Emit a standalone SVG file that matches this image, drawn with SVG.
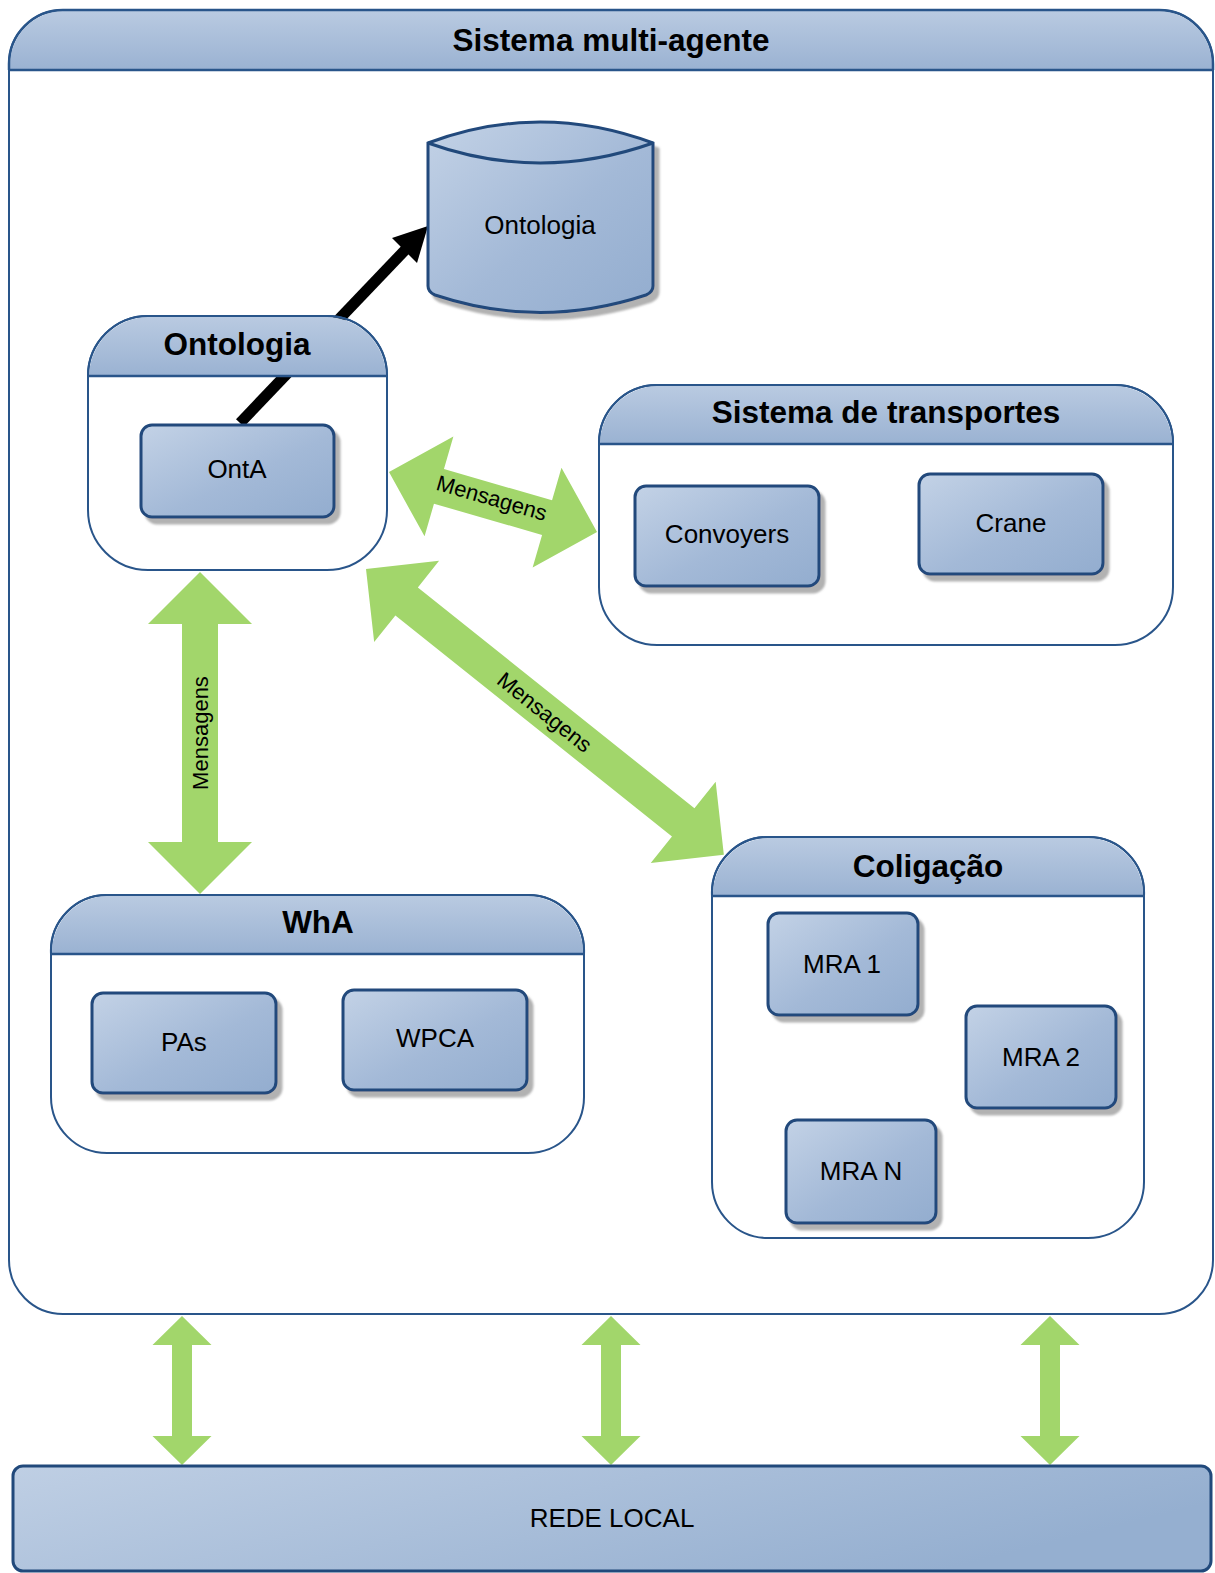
<svg xmlns="http://www.w3.org/2000/svg" xmlns:xlink="http://www.w3.org/1999/xlink" width="1215" height="1573" viewBox="0 0 1215 1573">
  <defs>
    <linearGradient id="hdr" x1="0" y1="0" x2="0" y2="1">
      <stop offset="0" stop-color="#b9cae1"/>
      <stop offset="1" stop-color="#9ab2d2"/>
    </linearGradient>
    <linearGradient id="boxfill" x1="0" y1="0" x2="1" y2="1">
      <stop offset="0" stop-color="#c3d2e6"/>
      <stop offset="0.55" stop-color="#a3b9d7"/>
      <stop offset="1" stop-color="#93adcf"/>
    </linearGradient>
    <linearGradient id="netfill" x1="0" y1="0" x2="1" y2="0.35">
      <stop offset="0" stop-color="#bfcfe4"/>
      <stop offset="1" stop-color="#95afd0"/>
    </linearGradient>
    <filter id="shadow" x="-10%" y="-10%" width="130%" height="130%">
      <feDropShadow dx="5" dy="6" stdDeviation="1.2" flood-color="#7f7f7f" flood-opacity="0.6"/>
    </filter>
    <!-- small vertical double arrow between the system and the network -->
    <polygon id="vlink" points="0,0 29.5,29 10,29 10,120 29.5,120 0,149 -29.5,120 -10,120 -10,29 -29.5,29"/>
  </defs>
  <style>
    .frame { fill: #ffffff; stroke: #29558a; stroke-width: 2; }
    .inner { fill: none; stroke: #29558a; stroke-width: 2; }
    .head { fill: url(#hdr); }
    .sep { stroke: #29558a; stroke-width: 2.5; fill: none; }
    .box { fill: url(#boxfill); stroke: #21497b; stroke-width: 3; filter: url(#shadow); }
    .title { font-family: "Liberation Sans", Arial, sans-serif; font-weight: bold; font-size: 31.5px; fill: #000; text-anchor: middle; }
    .label { font-family: "Liberation Sans", Arial, sans-serif; font-size: 26px; fill: #000; text-anchor: middle; }
    .msg { font-family: "Liberation Sans", Arial, sans-serif; font-size: 22px; fill: #000; text-anchor: middle; }
    .green { fill: #a2d66b; }
  </style>

  <!-- outer system container -->
  <g id="sistema-multi-agente">
    <rect class="frame" x="9" y="10" width="1204" height="1304" rx="54" ry="54"/>
    <path class="head" d="M10,70 L10,64 A54,54 0 0 1 64,11 L1158,11 A54,54 0 0 1 1212,64 L1212,70 Z"/>
    <path d="M9,70 L9,64 A54,54 0 0 1 63,10 L1159,10 A54,54 0 0 1 1213,64 L1213,70" fill="none" stroke="#29558a" stroke-width="2.5"/>
    <line class="sep" x1="9" y1="70" x2="1213" y2="70"/>
    <text class="title" x="611" y="51">Sistema multi-agente</text>
  </g>

  <!-- connectors (drawn beneath the inner containers' headers) -->
  <g id="connectors">
    <!-- OntA -> Ontologia store -->
    <line x1="240" y1="423" x2="407" y2="248" stroke="#000" stroke-width="11"/>
    <polygon points="428,226 392,238 417,263" fill="#000"/>

    <!-- Ontologia <-> Sistema de transportes -->
    <g transform="translate(389,472) rotate(16.09)">
      <polygon class="green" points="0,0 52,-52 52,-18 164.5,-18 164.5,-52 216.5,0 164.5,52 164.5,18 52,18 52,52"/>
      <text class="msg" x="106" y="4">Mensagens</text>
    </g>

    <!-- Ontologia <-> Coligação -->
    <g transform="translate(366,569) rotate(38.62)">
      <polygon class="green" points="0,0 52,-52 52,-18 406,-18 406,-52 458,0 406,52 406,18 52,18 52,52"/>
      <text class="msg" x="229" y="8">Mensagens</text>
    </g>

    <!-- Ontologia <-> WhA -->
    <g transform="translate(200,572) rotate(90)">
      <polygon class="green" points="0,0 52,-52 52,-18 270,-18 270,-52 322,0 270,52 270,18 52,18 52,52"/>
    </g>
    <text class="msg" transform="translate(200,733) rotate(-90)" x="0" y="8">Mensagens</text>

    <!-- system <-> local network -->
    <use xlink:href="#vlink" href="#vlink" class="green" transform="translate(182,1316)"/>
    <use xlink:href="#vlink" href="#vlink" class="green" transform="translate(611,1316)"/>
    <use xlink:href="#vlink" href="#vlink" class="green" transform="translate(1050,1316)"/>
  </g>

  <!-- ontology agent container -->
  <g id="ontologia-agente">
    <rect class="inner" x="88" y="316" width="299" height="254" rx="60" ry="60"/>
    <path class="head" d="M89,376 A60,60 0 0 1 148,317 L327,317 A60,60 0 0 1 386,376 Z"/>
    <path d="M88,376 A60,60 0 0 1 148,316 L327,316 A60,60 0 0 1 387,376" fill="none" stroke="#29558a" stroke-width="2"/>
    <line class="sep" x1="88" y1="376" x2="387" y2="376"/>
    <text class="title" x="237" y="355">Ontologia</text>
  </g>
  <g id="onta">
    <rect class="box" x="141" y="425" width="193" height="92" rx="11" ry="11"/>
    <text class="label" x="237" y="478">OntA</text>
  </g>

  <!-- transport system container -->
  <g id="sistema-transportes">
    <rect class="inner" x="599" y="385" width="574" height="260" rx="58" ry="58"/>
    <path class="head" d="M600,444 A58,58 0 0 1 657,386 L1115,386 A58,58 0 0 1 1172,444 Z"/>
    <path d="M599,444 A58,58 0 0 1 657,385 L1115,385 A58,58 0 0 1 1173,444" fill="none" stroke="#29558a" stroke-width="2"/>
    <line class="sep" x1="599" y1="444" x2="1173" y2="444"/>
    <text class="title" x="886" y="423">Sistema de transportes</text>
  </g>
  <g id="convoyers">
    <rect class="box" x="635" y="486" width="184" height="100" rx="11" ry="11"/>
    <text class="label" x="727" y="543">Convoyers</text>
  </g>
  <g id="crane">
    <rect class="box" x="919" y="474" width="184" height="100" rx="11" ry="11"/>
    <text class="label" x="1011" y="532">Crane</text>
  </g>

  <!-- warehouse agent container -->
  <g id="wha">
    <rect class="inner" x="51" y="895" width="533" height="258" rx="56" ry="56"/>
    <path class="head" d="M52,954 A56,56 0 0 1 107,896 L528,896 A56,56 0 0 1 583,954 Z"/>
    <path d="M51,954 A56,56 0 0 1 107,895 L528,895 A56,56 0 0 1 584,954" fill="none" stroke="#29558a" stroke-width="2"/>
    <line class="sep" x1="51" y1="954" x2="584" y2="954"/>
    <text class="title" x="318" y="933">WhA</text>
  </g>
  <g id="pas">
    <rect class="box" x="92" y="993" width="184" height="100" rx="11" ry="11"/>
    <text class="label" x="184" y="1051">PAs</text>
  </g>
  <g id="wpca">
    <rect class="box" x="343" y="990" width="184" height="100" rx="11" ry="11"/>
    <text class="label" x="435" y="1047">WPCA</text>
  </g>

  <!-- coalition container -->
  <g id="coligacao">
    <rect class="inner" x="712" y="837" width="432" height="401" rx="56" ry="56"/>
    <path class="head" d="M713,896 A56,56 0 0 1 768,838 L1087,838 A56,56 0 0 1 1143,896 Z"/>
    <path d="M712,896 A56,56 0 0 1 768,837 L1087,837 A56,56 0 0 1 1144,896" fill="none" stroke="#29558a" stroke-width="2"/>
    <line class="sep" x1="712" y1="896" x2="1144" y2="896"/>
    <text class="title" x="928" y="877">Coligação</text>
  </g>
  <g id="mra-1">
    <rect class="box" x="768" y="913" width="150" height="102" rx="11" ry="11"/>
    <text class="label" x="842" y="973">MRA 1</text>
  </g>
  <g id="mra-2">
    <rect class="box" x="966" y="1006" width="150" height="102" rx="11" ry="11"/>
    <text class="label" x="1041" y="1066">MRA 2</text>
  </g>
  <g id="mra-n">
    <rect class="box" x="786" y="1120" width="150" height="103" rx="11" ry="11"/>
    <text class="label" x="861" y="1180">MRA N</text>
  </g>

  <!-- ontology store (cylinder) -->
  <g id="ontologia-db">
    <path d="M428,143 Q540,101 653,143 L653,286 Q653,292 646,295 Q540,330 435,295 Q428,292 428,286 Z" fill="url(#boxfill)" stroke="#21497b" stroke-width="3" filter="url(#shadow)"/>
    <path d="M428,143 Q540,183 653,143" fill="none" stroke="#21497b" stroke-width="3"/>
    <text class="label" x="540" y="234">Ontologia</text>
  </g>

  <!-- local network bar -->
  <g id="rede-local">
    <rect x="13" y="1466" width="1198" height="105" rx="10" ry="10" fill="url(#netfill)" stroke="#21497b" stroke-width="3"/>
    <text class="label" x="612" y="1527">REDE LOCAL</text>
  </g>
</svg>
